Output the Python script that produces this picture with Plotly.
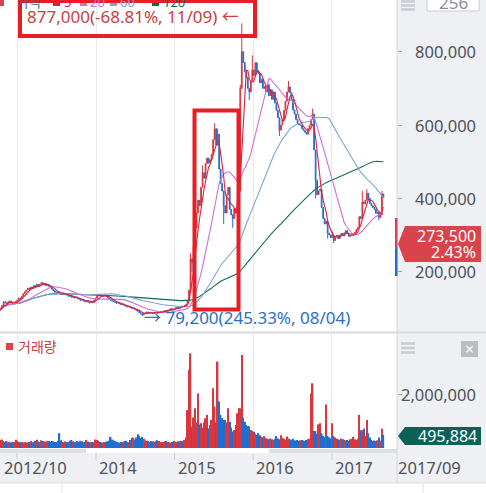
import numpy as np
import pandas as pd
import plotly.graph_objects as go

W, H = 486, 493

# ---------------- data (weekly) ----------------
START_DATE = "2012-10-08"
FIRST_OPEN_K = 93

close_k = [
    95, 100, 108, 118, 115, 112, 118, 120, 116, 113,
    115, 118, 122, 128, 126, 133, 140, 145, 150, 155,
    152, 158, 155, 162, 158, 165, 160, 166, 170, 164,
    168, 162, 165, 160, 158, 152, 148, 144, 142, 145,
    140, 138, 142, 137, 140, 136, 133, 135, 130, 132,
    128, 130, 127, 125, 122, 124, 120, 118, 121, 117,
    115, 118, 116, 122, 128, 134, 138, 135, 132, 134,
    136, 133, 130, 126, 122, 120, 118, 116, 114, 116,
    112, 110, 112, 108, 106, 104, 106, 102, 100, 101,
    97, 95, 92, 88, 85, 82, 86, 88, 90, 87,
    89, 88, 86, 88, 90, 87, 89, 91, 90, 92,
    94, 92, 95, 97, 99, 96, 98, 101, 103, 100,
    104, 106, 105, 108, 110, 122, 150, 235, 225, 270,
    320, 360, 395, 380, 430, 470, 455, 495, 510, 496,
    505, 520, 560, 590, 545, 575, 480, 440, 420, 380,
    360, 410, 430, 370, 355, 345, 372, 360, 380, 420,
    700, 800, 770, 745, 730, 700, 690, 720, 750, 735,
    770, 745, 740, 715, 725, 700, 705, 690, 710, 680,
    696, 670, 690, 660, 640, 620, 586, 600, 614, 640,
    665, 690, 704, 688, 670, 641, 630, 615, 605, 600,
    600, 590, 585, 580, 575, 590, 600, 615, 630, 532,
    449, 410, 420, 425, 375, 345, 330, 338, 305, 300,
    293, 300, 285, 296, 299, 290, 300, 304, 298, 306,
    312, 305, 296, 299, 299, 302, 307, 315, 320, 350,
    345, 390, 385, 395, 414, 400, 386, 380, 375, 370,
    359, 362, 348, 355, 412, 403,
]

volume_k = [
    240, 300, 320, 260, 230, 260, 220, 230, 200, 220,
    230, 310, 260, 230, 220, 230, 200, 220, 220, 210,
    230, 260, 220, 230, 270, 310, 250, 230, 290, 260,
    250, 230, 270, 260, 230, 260, 250, 230, 220, 270,
    560, 290, 230, 220, 250, 230, 220, 270, 300, 250,
    230, 220, 260, 230, 270, 250, 220, 230, 300, 240,
    220, 210, 230, 220, 320, 300, 270, 230, 220, 200,
    220, 230, 250, 270, 420, 320, 290, 260, 230, 220,
    200, 230, 220, 250, 270, 230, 220, 300, 380, 400,
    320, 400, 520, 460, 380, 420, 350, 290, 270, 260,
    230, 260, 250, 230, 270, 290, 260, 230, 220, 230,
    250, 270, 230, 220, 200, 230, 260, 240, 230, 250,
    260, 270, 250, 300, 400, 1430, 2940, 3570, 800, 1150,
    1500, 960, 2060, 890, 930, 770, 960, 1120, 1245, 740,
    865, 1060, 2250, 1560, 960, 3260, 1750, 1250, 1120, 1055,
    1055, 960, 1500, 990, 770, 620, 680, 865, 1310, 1500,
    1500, 3510, 1155, 990, 865, 830, 800, 680, 640, 615,
    540, 490, 560, 480, 430, 400, 450, 370, 350, 330,
    360, 330, 300, 350, 450, 360, 330, 480, 390, 350,
    310, 430, 360, 330, 300, 350, 290, 280, 300, 260,
    290, 300, 280, 260, 300, 330, 350, 2060, 2440, 640,
    640, 530, 890, 930, 560, 460, 410, 1640, 460, 410,
    360, 930, 450, 400, 350, 330, 300, 360, 330, 300,
    290, 300, 260, 330, 350, 420, 330, 300, 350, 1250,
    670, 670, 740, 460, 1060, 560, 400, 300, 260, 280,
    260, 290, 400, 280, 730, 495.884,
]

# notable wicks (week index -> price in thousands)
high_wicks_k = {127: 250, 135: 490, 143: 605, 145: 590, 158: 400, 160: 710,
                161: 877, 168: 790, 192: 720, 208: 645, 221: 310, 241: 420,
                244: 425, 254: 420}
low_wicks_k = {95: 79.2, 128: 200, 149: 330, 155: 320, 166: 668, 186: 570,
               210: 400, 218: 290, 222: 278, 252: 340}

ma_periods = [5, 20, 60, 120]
ma_colors = ["#e0203f", "#cf6fd8", "#79a5d8", "#0f6a5a"]
ma_labels = ["5", "20", "60", "120"]

price_ticks = [200000, 400000, 600000, 800000]
price_tick_labels = ["200,000", "400,000", "600,000", "800,000"]
vol_ticks = [2000000]
vol_tick_labels = ["2,000,000"]
grid_dates = ["2013-01-01", "2014-01-01", "2015-01-01", "2016-01-01", "2017-01-01"]
year_label_dates = ["2014-01-01", "2015-01-01", "2016-01-01", "2017-01-01"]
year_labels = ["2014", "2015", "2016", "2017"]
first_label = "2012/10"
last_label = "2017/09"

high_point = ("2015-11-09", 877000, "877,000(-68.81%, 11/09) ←")
low_point = ("2014-08-04", 79200, "→ 79,200(245.33%, 08/04)")
last_price_text = ["273,500", "2.43%"]
last_volume_text = "495,884"
candle_count_text = "256"

# ---------------- derived series ----------------
dates = pd.date_range(START_DATE, periods=len(close_k), freq="7D")
close = np.array(close_k, dtype=float) * 1000
open_ = np.concatenate([[FIRST_OPEN_K * 1000.0], close[:-1]])
high = np.maximum(open_, close)
low = np.minimum(open_, close)
for i, v in high_wicks_k.items():
    high[i] = v * 1000
for i, v in low_wicks_k.items():
    low[i] = v * 1000
volume = np.array(volume_k) * 1000

UP = "#d9363e"
DN = "#1f6fd1"
vol_colors = [UP if c >= o else DN for o, c in zip(open_, close)]

FONT = "Noto Sans, Noto Sans CJK KR, sans-serif"


def px(x):
    return x / W


def py(y):
    return 1 - y / H


fig = go.Figure()

fig.add_trace(go.Candlestick(
    x=dates, open=open_, high=high, low=low, close=close,
    increasing=dict(line=dict(color=UP, width=1), fillcolor=UP),
    decreasing=dict(line=dict(color=DN, width=1), fillcolor=DN),
    whiskerwidth=0, showlegend=False, hoverinfo="skip",
    xaxis="x", yaxis="y",
))

s = pd.Series(close)
for n, col in reversed(list(zip(ma_periods, ma_colors))):
    fig.add_trace(go.Scatter(
        x=dates, y=s.rolling(n, min_periods=1).mean(), mode="lines",
        line=dict(color=col, width=1.1), showlegend=False, hoverinfo="skip",
        xaxis="x", yaxis="y",
    ))

fig.add_trace(go.Bar(
    x=dates, y=volume, marker=dict(color=vol_colors, line=dict(width=0)),
    showlegend=False, hoverinfo="skip", xaxis="x2", yaxis="y2",
))

XDOM = [0, 397 / W]
XRANGE = ["2012-10-12", "2017-10-30"]

fig.update_layout(
    width=W, height=H, margin=dict(l=0, r=0, t=0, b=0),
    paper_bgcolor="white", plot_bgcolor="white",
    showlegend=False, bargap=0.05,
    font=dict(family=FONT),
    xaxis=dict(domain=XDOM, range=XRANGE, type="date", anchor="y",
               showgrid=True, gridcolor="#e8e9ec", gridwidth=1,
               tickvals=grid_dates, showticklabels=False, ticks="",
               zeroline=False, showline=False,
               rangeslider=dict(visible=False), fixedrange=True),
    xaxis2=dict(domain=XDOM, range=XRANGE, type="date", anchor="y2", matches="x",
                showgrid=True, gridcolor="#e8e9ec", gridwidth=1,
                tickvals=grid_dates, showticklabels=False, ticks="",
                zeroline=False, showline=False, fixedrange=True),
    yaxis=dict(domain=[py(330), 1], range=[40900, 940900], side="right",
               anchor="x", tickvals=price_ticks, showticklabels=False,
               ticks="outside", ticklen=4, tickcolor="#9a9ea6",
               showgrid=False, zeroline=False, showline=False, fixedrange=True),
    yaxis2=dict(domain=[py(448), py(334)], range=[0, 4.30e6], side="right",
                anchor="x2", tickvals=vol_ticks, showticklabels=False,
                ticks="outside", ticklen=4, tickcolor="#9a9ea6",
                showgrid=False, zeroline=False, showline=False, fixedrange=True),
)

shapes = []


def rect_px(x0, y0, x1, y1, fill, line_color=None, lw=0, layer="above"):
    shapes.append(dict(type="rect", xref="paper", yref="paper",
                       x0=px(x0), x1=px(x1), y0=py(y1), y1=py(y0),
                       fillcolor=fill, layer=layer,
                       line=dict(color=line_color or fill, width=lw)))


def line_px(x0, y0, x1, y1, color, lw=1, layer="above"):
    shapes.append(dict(type="line", xref="paper", yref="paper",
                       x0=px(x0), x1=px(x1), y0=py(y0), y1=py(y1),
                       layer=layer, line=dict(color=color, width=lw)))


def path_px(points, fill):
    d = "M " + " L ".join(f"{px(x)},{py(y)}" for x, y in points) + " Z"
    shapes.append(dict(type="path", xref="paper", yref="paper", path=d,
                       fillcolor=fill, line=dict(width=0)))


PANEL = "#eff0f3"
# x-label band and right-hand panel
rect_px(0, 453, W, 483, PANEL, layer="below")
rect_px(397, -2, W, 483, PANEL, layer="below")
# scrollbar
rect_px(0, 449, 397, 453, "#dcdfe4", layer="below")
rect_px(86, 449, 269, 453, "#ffffff", layer="below")
# separators
line_px(397, 0, 397, 483, "#d3d6db", 1)
line_px(0, 332.5, W, 332.5, "#d7d9de", 2)
line_px(0, 483, W, 483, "#dcdde0", 1)
line_px(62, 483, 62, H, "#e2e3e6", 1)
line_px(423, 483, 423, H, "#e2e3e6", 1)
# x tick marks in label band
for d in grid_dates[1:]:
    shapes.append(dict(type="line", xref="x", yref="paper", x0=d, x1=d,
                       y0=py(453), y1=py(460), line=dict(color="#c9ccd1", width=1)))
line_px(17, 453, 17, 460, "#c9ccd1", 1)

# hamburger icons
for yy in (1.5, 5.5, 9.5):
    line_px(401, yy, 415, yy, "#c9cdd3", 2.5)
for yy in (343.5, 348, 352.5):
    line_px(401, yy, 415, yy, "#c9cdd3", 2.5)
# count box
rect_px(427, -6, 479, 11, "#ffffff", "#c8ccd2", 1)
# close button
rect_px(461, 341, 478, 357, "#b9bdc4")

# last price marker
rect_px(395, 218, 397.5, 247, "#d9434b")
rect_px(395, 247, 397.5, 276, "#1e6fd0")
path_px([(405, 226), (481, 226), (481, 262), (405, 262), (398, 244)], "#d9434b")
# last volume marker
path_px([(405, 427), (481, 427), (481, 445), (405, 445), (398, 436)], "#0c6157")

# top legend squares
rect_px(-3, -2, 4, 6, "#d9434b")
for x0, col in zip([53, 80, 110, 152], ma_colors):
    rect_px(x0, -1, x0 + 7, 6, col)
# volume legend square
rect_px(6, 343, 13, 350, "#d9434b")

# red highlight boxes
RED = "#ec1c24"
shapes.append(dict(type="rect", xref="paper", yref="paper",
                   x0=px(20), x1=px(255), y0=py(36), y1=py(1),
                   line=dict(color=RED, width=4), fillcolor="rgba(0,0,0,0)"))
shapes.append(dict(type="rect", xref="paper", yref="paper",
                   x0=px(194.5), x1=px(238.5), y0=py(309.5), y1=py(110.5),
                   line=dict(color=RED, width=4), fillcolor="rgba(0,0,0,0)"))

fig.update_layout(shapes=shapes)

ann = []
TICK_COL = "#4d525c"
for v, t in zip(price_ticks, price_tick_labels):
    ann.append(dict(x=px(478), xref="paper", xanchor="right", y=v, yref="y",
                    yanchor="middle", text=t, showarrow=False,
                    font=dict(size=16.5, color=TICK_COL)))
for v, t in zip(vol_ticks, vol_tick_labels):
    ann.append(dict(x=px(478), xref="paper", xanchor="right", y=v, yref="y2",
                    yanchor="middle", text=t, showarrow=False,
                    font=dict(size=16.5, color=TICK_COL)))
ann.append(dict(x=px(2), xref="paper", xanchor="left", y=py(467), yref="paper",
                yanchor="middle", text=first_label, showarrow=False,
                font=dict(size=16.5, color=TICK_COL)))
for d, t in zip(year_label_dates, year_labels):
    ann.append(dict(x=d, xref="x", xanchor="left", xshift=1, y=py(467), yref="paper",
                    yanchor="middle", text=t, showarrow=False,
                    font=dict(size=16.5, color=TICK_COL)))
ann.append(dict(x=px(396), xref="paper", xanchor="left", y=py(467), yref="paper",
                yanchor="middle", text=last_label, showarrow=False,
                font=dict(size=16.5, color=TICK_COL)))

# high / low markers
ann.append(dict(x=high_point[0], xref="x", y=high_point[1], yref="y",
                xanchor="right", yanchor="middle", xshift=-1, yshift=7,
                text=high_point[2], showarrow=False,
                font=dict(size=17, color="#c8403f")))
ann.append(dict(x=low_point[0], xref="x", y=low_point[1], yref="y",
                xanchor="left", yanchor="middle", xshift=0, yshift=-2,
                text=low_point[2], showarrow=False,
                font=dict(size=17, color="#2d6fc6")))

# right-side value labels
ann.append(dict(x=px(478), xref="paper", xanchor="right", y=py(236), yref="paper",
                yanchor="middle", text=last_price_text[0], showarrow=False,
                font=dict(size=16, color="white")))
ann.append(dict(x=px(478), xref="paper", xanchor="right", y=py(251.5), yref="paper",
                yanchor="middle", text=last_price_text[1], showarrow=False,
                font=dict(size=16, color="white")))
ann.append(dict(x=px(479), xref="paper", xanchor="right", y=py(436), yref="paper",
                yanchor="middle", text=last_volume_text, showarrow=False,
                font=dict(size=16, color="white")))
ann.append(dict(x=px(453), xref="paper", xanchor="center", y=py(2), yref="paper",
                yanchor="middle", text=candle_count_text, showarrow=False,
                font=dict(size=17, color="#8a8f98")))
ann.append(dict(x=px(469.5), xref="paper", xanchor="center", y=py(349), yref="paper",
                yanchor="middle", text="×", showarrow=False,
                font=dict(size=16, color="white")))

# legends
ann.append(dict(x=px(15), xref="paper", xanchor="left", y=py(2.5), yref="paper",
                yanchor="middle", text="가격", showarrow=False,
                font=dict(size=13, color="#555a63")))
for x0, col, t in zip([62, 88, 118, 161], ma_colors, ma_labels):
    ann.append(dict(x=px(x0), xref="paper", xanchor="left", y=py(2.5), yref="paper",
                    yanchor="middle", text=t, showarrow=False,
                    font=dict(size=13, color=col)))
ann.append(dict(x=px(16), xref="paper", xanchor="left", y=py(346.5), yref="paper",
                yanchor="middle", text="거래량", showarrow=False,
                font=dict(size=14, color="#c8403f")))

fig.update_layout(annotations=ann)

fig.write_html("out.html")
